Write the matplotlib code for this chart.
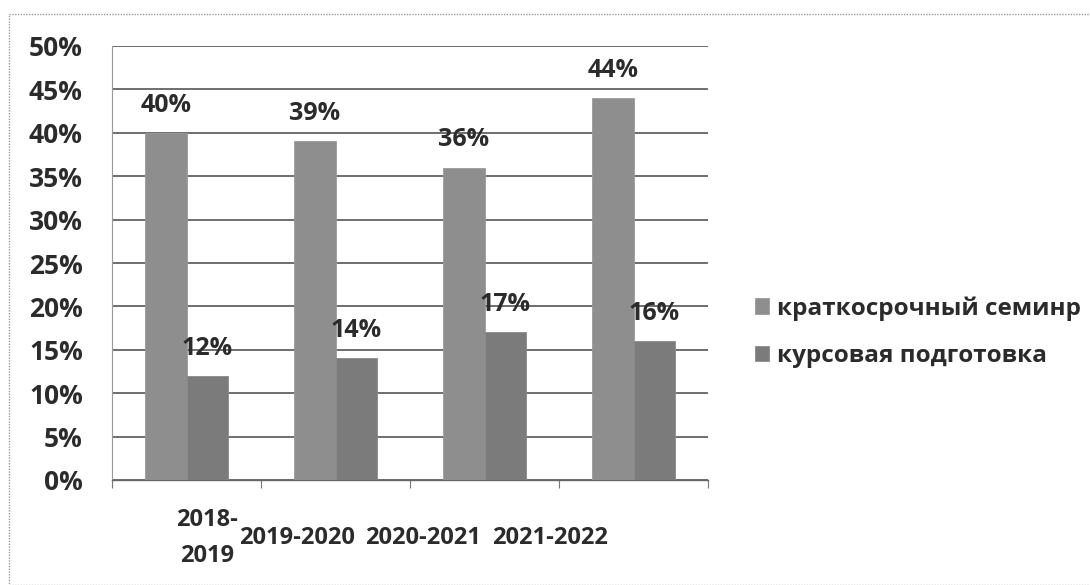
import matplotlib
matplotlib.use("Agg")
import matplotlib.pyplot as plt
import numpy as np
from matplotlib.patches import Rectangle
from matplotlib.transforms import blended_transform_factory

categories = ["2018-\n2019", "2019-2020", "2020-2021", "2021-2022"]
series_names = ["краткосрочный семинр", "курсовая подготовка"]
seminar = [40, 39, 36, 44]
courses = [12, 14, 17, 16]
yticks = [0, 5, 10, 15, 20, 25, 30, 35, 40, 45, 50]

plt.rcParams['font.family'] = ['Open Sans', 'DejaVu Sans']
text_color = "#2b2b2b"

fig = plt.figure(figsize=(10.9, 5.85), dpi=100)
fig.patch.set_facecolor("white")
# figure border (dotted)
fig.add_artist(Rectangle((9/1090, 0.0), 1.2, 1 - 14/585, transform=fig.transFigure,
                         fill=False, edgecolor="#9a9a9a", linewidth=1.0, linestyle=(0, (1, 1))))

ax = fig.add_axes([112/1090, 1 - 480/585, (708 - 112)/1090, (480 - 46)/585])
x = np.arange(len(categories))
w = 0.28
c1, c2 = "#8e8e8e", "#7b7b7b"
b1 = ax.bar(x - w/2, seminar, w, color=c1, edgecolor="#9a9a9a", linewidth=0.6, label=series_names[0], zorder=3)
b2 = ax.bar(x + w/2, courses, w, color=c2, edgecolor="#8a8a8a", linewidth=0.6, label=series_names[1], zorder=3)

for bars, vals in ((b1, seminar), (b2, courses)):
    for rect, v in zip(bars, vals):
        ax.annotate(f"{v}%", (rect.get_x() + rect.get_width()/2, v), xytext=(0, 20),
                    textcoords="offset points", ha="center", va="center",
                    fontsize=18, fontweight="bold", color=text_color, zorder=5)

ax.set_xlim(-0.5, len(categories) - 0.5)
ax.set_ylim(0, 50)
ax.set_yticks(yticks)
ax.set_yticklabels([f"{t}%" for t in yticks], fontsize=19, fontweight="bold", color=text_color)
ax.yaxis.grid(True, color="#555555", linewidth=1.2, zorder=0)
ax.set_axisbelow(True)
ax.tick_params(axis="y", length=0, pad=21)

ax.set_xticks(np.arange(-0.5, len(categories), 1.0))
ax.set_xticklabels([])
ax.tick_params(axis="x", length=6, color="#777777", direction="out")

for s in ("top", "right"):
    ax.spines[s].set_visible(False)
ax.spines["left"].set_color("#999999")
ax.spines["left"].set_linewidth(0.8)
ax.spines["left"].set_linestyle((0, (1, 1)))
ax.spines["bottom"].set_color("#666666")
ax.spines["bottom"].set_linewidth(1.0)

# category labels (positions as in the scanned reference)
trans = blended_transform_factory(ax.transData, fig.transFigure)
label_x = [0.14, 0.74, 1.59, 2.44]
for lx, lab in zip(label_x, categories):
    ax.text(lx, 1 - 538/585, lab, transform=trans, ha="center", va="center",
            fontsize=17, fontweight="bold", color=text_color, linespacing=1.65)

leg = fig.legend(handles=[b1, b2], labels=series_names, loc="center left",
                 bbox_to_anchor=(733/1090, 1 - 332/585), frameon=False,
                 prop={"size": 17.5, "weight": "bold"}, handlelength=0.6, handleheight=0.6,
                 handletextpad=0.3, labelspacing=0.95)
for t in leg.get_texts():
    t.set_color(text_color)

fig.savefig("out.png", dpi=100, facecolor="white")
